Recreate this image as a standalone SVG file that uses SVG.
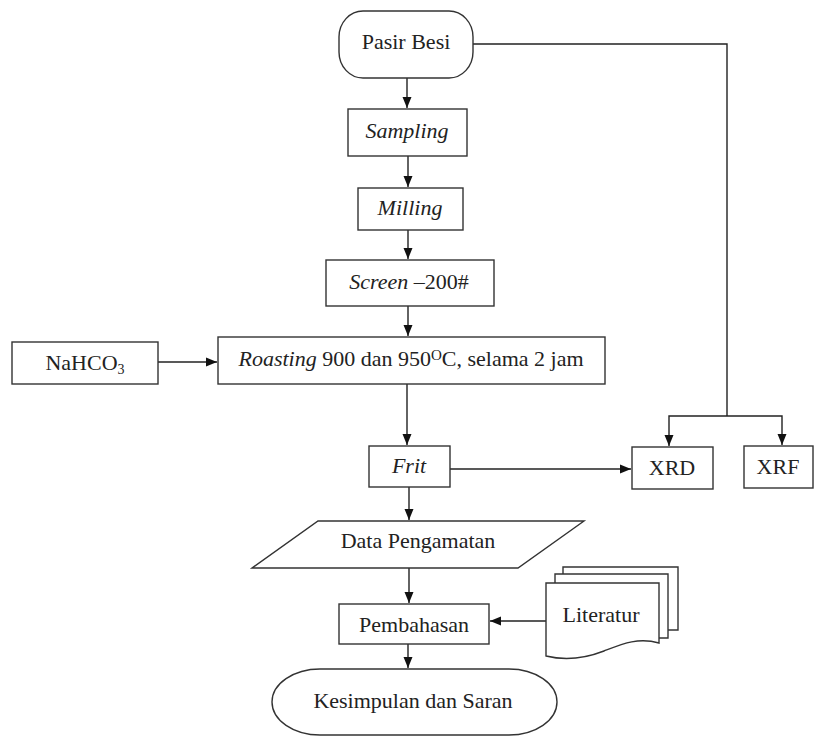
<svg xmlns="http://www.w3.org/2000/svg" width="815" height="738" viewBox="0 0 815 738">
<style>
.s{fill:#fff;stroke:#333;stroke-width:1.4}
.t{font-family:"Liberation Serif","Times New Roman",serif;font-size:22px;fill:#222;text-anchor:middle}
.i{font-style:italic}
.c{fill:none;stroke:#222;stroke-width:1.4}
</style>
<defs>
<marker id="a" markerUnits="userSpaceOnUse" markerWidth="12" markerHeight="12" viewBox="0 0 12 12" refX="11" refY="6" orient="auto">
<path d="M0,1.5 L11,6 L0,10.5 z" fill="#111"/>
</marker>
</defs>
<rect width="815" height="738" fill="#fff"/>
<g id="connectors">
<path class="c" d="M407,78 V108" marker-end="url(#a)"/>
<path class="c" d="M408,156 V187" marker-end="url(#a)"/>
<path class="c" d="M408,230 V259" marker-end="url(#a)"/>
<path class="c" d="M408,306 V336" marker-end="url(#a)"/>
<path class="c" d="M158,362 H217" marker-end="url(#a)"/>
<path class="c" d="M407,384 V445" marker-end="url(#a)"/>
<path class="c" d="M450,469 H631" marker-end="url(#a)"/>
<path class="c" d="M473,44 H727 V416"/>
<path class="c" d="M727,416 H669 V446" marker-end="url(#a)"/>
<path class="c" d="M727,416 H782 V445" marker-end="url(#a)"/>
<path class="c" d="M409,487 V520" marker-end="url(#a)"/>
<path class="c" d="M409,568 V603" marker-end="url(#a)"/>
<path class="c" d="M546,621 H490" marker-end="url(#a)"/>
<path class="c" d="M408,644 V668" marker-end="url(#a)"/>
</g>
<g id="pasir-besi">
<rect class="s" x="339" y="11" width="134" height="67" rx="24" ry="26"/>
<text class="t" x="406" y="49">Pasir Besi</text>
</g>
<g id="sampling">
<rect class="s" x="348" y="109" width="119" height="47"/>
<text class="t i" x="407" y="138">Sampling</text>
</g>
<g id="milling">
<rect class="s" x="358" y="188" width="105" height="42"/>
<text class="t i" x="410" y="215">Milling</text>
</g>
<g id="screen">
<rect class="s" x="326" y="260" width="168" height="46"/>
<text class="t" x="409" y="289"><tspan class="i">Screen</tspan> –200#</text>
</g>
<g id="nahco3">
<rect class="s" x="12" y="342" width="146" height="42"/>
<text class="t" x="85" y="370">NaHCO<tspan font-size="14" dy="4">3</tspan></text>
</g>
<g id="roasting">
<rect class="s" x="218" y="337" width="387" height="47"/>
<text class="t" x="411" y="366"><tspan class="i">Roasting</tspan> 900 dan 950<tspan font-size="15" dy="-6">O</tspan><tspan dy="6">C, selama 2 jam</tspan></text>
</g>
<g id="frit">
<rect class="s" x="369" y="446" width="81" height="41"/>
<text class="t i" x="409" y="473">Frit</text>
</g>
<g id="xrd">
<rect class="s" x="632" y="447" width="81" height="42"/>
<text class="t" x="672" y="475">XRD</text>
</g>
<g id="xrf">
<rect class="s" x="744" y="446" width="69" height="42"/>
<text class="t" x="778" y="474">XRF</text>
</g>
<g id="data-pengamatan">
<path class="s" d="M318,521 H584 L518,568 H252 Z"/>
<text class="t" x="418" y="548">Data Pengamatan</text>
</g>
<g id="literatur">
<path class="s" d="M563,574 V567 H678 V630 H668"/>
<path class="s" d="M555,583 V574 H668 V638 H659"/>
<path class="s" d="M546,583 H659 V643 C638,637 622,644 604,651 C586,658 566,661 546,656 Z"/>
<text class="t" x="601" y="622">Literatur</text>
</g>
<g id="pembahasan">
<rect class="s" x="339" y="604" width="150" height="40"/>
<text class="t" x="414" y="632">Pembahasan</text>
</g>
<g id="kesimpulan">
<rect class="s" x="272" y="669" width="285" height="66" rx="48" ry="33"/>
<text class="t" x="413" y="708">Kesimpulan dan Saran</text>
</g>
</svg>
